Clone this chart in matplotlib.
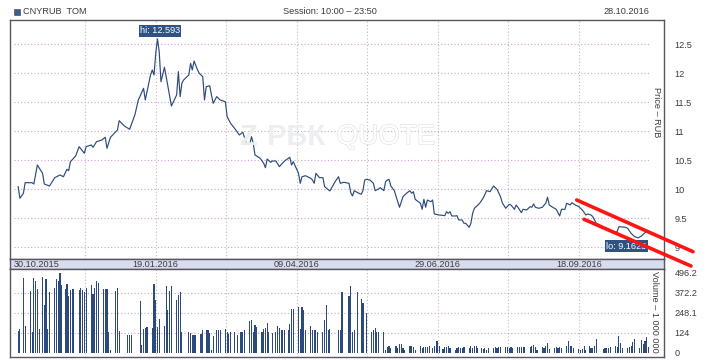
import matplotlib
matplotlib.use("Agg")
import matplotlib.pyplot as plt
from matplotlib.lines import Line2D
from matplotlib.patches import Rectangle
import matplotlib.patheffects as pe

plt.rcParams['font.family'] = ['Liberation Sans', 'DejaVu Sans']

# ---------------- data ----------------
title_left = "CNYRUB  TOM"
title_mid = "Session: 10:00 \u2013 23:50"
title_right = "28.10.2016"

# days since 30.10.2015
price_days = [2, 3, 5, 6, 10, 11, 13, 16, 17, 20, 23, 26, 28, 30, 31, 32, 35, 37, 40, 41, 44, 45, 47, 50, 52, 53, 55, 59, 60, 63,
              66, 69, 71, 74, 75, 78, 79, 80, 81, 82, 83, 84, 86, 87, 90, 93, 94, 95, 96, 97, 100, 101, 102, 103, 105, 106, 108, 109, 110, 112,
              113, 114, 116, 118, 121, 122, 124, 127, 129, 131, 133, 135, 136, 137, 138, 141, 143, 144, 145, 147, 148, 150, 152, 155, 158, 159, 160, 163, 164, 165,
              167, 170, 171, 172, 173, 175, 177, 178, 181, 184, 186, 187, 189, 192, 193, 194, 195, 197, 199, 200, 201, 202, 204, 206, 207, 209, 210, 212, 213, 214,
              215, 216, 218, 221, 223, 225, 227, 228, 229, 230, 233, 234, 235, 236, 237, 239, 240, 241, 244, 247, 248, 249, 250, 251, 253, 254, 255, 257, 258, 259,
              261, 262, 263, 264, 267, 269, 271, 273, 275, 277, 279, 280, 282, 284, 285, 287, 288, 289, 291, 292, 294, 296, 297, 298, 299, 301, 303, 305, 306, 307,
              309, 311, 313, 314, 316, 317, 319, 320, 322, 324, 326, 328, 329, 331, 332, 334, 336, 339, 341, 344, 346, 347, 351, 352, 354, 356, 358, 360, 362, 363]
prices = [10.045, 9.845, 9.931, 10.114, 10.114, 10.091, 10.419, 10.276, 10.091, 10.057, 10.200, 10.247, 10.217, 10.345, 10.321, 10.476, 10.574, 10.735, 10.621, 10.735,
          10.764, 10.724, 10.821, 10.850, 10.897, 10.707, 10.897, 11.022, 11.183, 11.091,
          11.035, 11.281, 11.540, 11.741, 11.540, 11.971, 12.057, 11.971, 12.345, 12.593, 12.372, 11.855, 12.103, 11.941, 11.436, 11.626, 12.028, 11.597, 11.827, 11.884,
          11.971, 12.172, 12.057, 12.212, 12.057, 12.000, 11.941, 11.540, 11.769, 11.786,
          11.626, 11.483, 11.597, 11.540, 11.510, 11.252, 11.138, 11.022, 10.936, 10.983, 10.793, 10.776, 10.907, 10.793, 10.591, 10.535, 10.448, 10.372, 10.522, 10.465,
          10.488, 10.488, 10.390, 10.488, 10.552, 10.419, 10.476, 10.276, 10.103, 10.217,
          10.234, 10.190, 10.160, 10.103, 10.276, 10.200, 10.200, 10.045, 9.971, 10.131, 10.217, 10.103, 10.121, 10.103, 9.941, 9.885, 9.976, 9.941, 9.914, 9.976,
          10.160, 10.172, 10.160, 10.103, 9.976, 10.005, 10.028, 9.976, 10.131, 10.160,
          10.172, 10.057, 9.976, 9.690, 9.873, 9.931, 9.976, 9.931, 9.959, 9.827, 9.759, 9.655, 9.827, 9.690, 9.814, 9.786, 9.815, 9.574, 9.557, 9.545,
          9.614, 9.586, 9.614, 9.540, 9.540, 9.545, 9.471, 9.471, 9.414, 9.414,
          9.345, 9.414, 9.586, 9.672, 9.758, 9.845, 9.976, 9.959, 10.057, 10.000, 9.873, 9.769, 9.672, 9.741, 9.729, 9.655, 9.729, 9.690, 9.597, 9.655,
          9.643, 9.700, 9.690, 9.747, 9.690, 9.672, 9.690, 9.759, 9.862, 9.729,
          9.690, 9.655, 9.540, 9.655, 9.655, 9.759, 9.729, 9.769, 9.729, 9.700, 9.643, 9.557, 9.574, 9.557, 9.528, 9.414, 9.385, 9.327, 9.298, 9.252,
          9.269, 9.355, 9.345, 9.327, 9.241, 9.183, 9.1625, 9.195, 9.252, 9.269]

volume_days = [2, 3, 5, 6, 9, 10, 11, 12, 13, 14, 16, 17, 18, 19, 20, 23, 24, 25, 26, 27, 29, 30, 31, 32, 33, 34, 37, 38, 39, 40,
               41, 44, 45, 46, 47, 48, 51, 52, 53, 54, 55, 58, 59, 60, 65, 66, 67, 72, 73, 74, 75, 76, 79, 80, 81, 82, 83, 86, 87, 88,
               89, 90, 93, 94, 95, 96, 100, 101, 102, 103, 104, 107, 108, 110, 111, 112, 113, 114, 116, 117, 118, 121, 122, 123, 124, 126, 128, 130, 131, 132,
               135, 136, 137, 138, 139, 142, 143, 144, 145, 146, 148, 150, 151, 152, 153, 154, 155, 157, 158, 159, 160, 163, 164, 165, 166, 167, 170, 171, 172, 173,
               174, 177, 178, 179, 180, 181, 186, 187, 188, 192, 193, 194, 195, 197, 199, 200, 202, 205, 206, 207, 208, 209, 212, 213, 214, 215, 216, 219, 220, 221,
               222, 223, 224, 227, 228, 229, 230, 233, 234, 235, 236, 237, 238, 240, 241, 242, 243, 244, 246, 247, 248, 249, 250, 253, 254, 255, 256, 257, 258, 261,
               262, 263, 264, 265, 266, 268, 269, 270, 271, 272, 275, 276, 277, 278, 279, 282, 283, 284, 285, 286, 289, 290, 291, 292, 293, 296, 297, 298, 299, 300,
               303, 304, 305, 306, 307, 310, 311, 312, 313, 314, 317, 318, 319, 320, 321, 324, 325, 326, 327, 328, 330, 331, 332, 333, 334, 338, 339, 340, 341, 342,
               345, 346, 347, 348, 349, 352, 353, 354, 355, 356, 359, 360, 361, 362, 363, 364]
volumes = [135, 146, 465, 167, 386, 131, 465, 448, 396, 146, 471, 298, 459, 146, 375, 402, 459, 444, 496.2, 423, 396, 430, 354, 392, 396, 396, 388, 402, 392, 375,
           402, 423, 365, 402, 448, 434, 396, 396, 396, 131, 17, 382, 402, 135, 110, 110, 110, 319, 48, 146, 152, 158, 152, 430, 329, 158, 211, 163, 413, 267,
           382, 413, 329, 361, 375, 125, 125, 121, 110, 110, 110, 117, 138, 142, 138, 121, 13, 104, 142, 138, 142, 146, 131, 117, 125, 131, 110, 131, 131, 138,
           194, 200, 131, 173, 158, 125, 146, 152, 183, 125, 121, 131, 167, 152, 142, 138, 138, 138, 179, 271, 271, 284, 146, 284, 263, 142, 167, 138, 138, 138,
           125, 125, 204, 298, 138, 146, 138, 138, 375, 350, 417, 125, 142, 375, 334, 309, 246, 131, 142, 152, 131, 131, 125, 17, 33, 38, 27, 42, 27, 54,
           54, 27, 17, 42, 42, 33, 17, 38, 27, 33, 33, 33, 38, 27, 42, 69, 69, 38, 21, 33, 33, 42, 27, 17, 27, 33, 27, 27, 33, 27,
           38, 27, 38, 42, 27, 27, 21, 27, 17, 27, 27, 33, 27, 33, 33, 33, 33, 27, 33, 27, 33, 33, 33, 33, 33, 33, 42, 48, 33, 17,
           33, 27, 42, 58, 21, 27, 33, 27, 33, 27, 42, 69, 42, 42, 27, 21, 17, 21, 42, 17, 42, 27, 27, 42, 83, 21, 27, 27, 27, 33,
           38, 33, 104, 58, 27, 27, 33, 42, 63, 83, 27, 75, 54, 69, 96, 33]

date_tick_days = [0, 81, 162, 243, 324]
date_tick_labels = ["30.10.2015", "19.01.2016", "09.04.2016", "29.06.2016", "18.09.2016"]
price_ticks = [9, 9.5, 10, 10.5, 11, 11.5, 12, 12.5]
price_tick_labels = ["9", "9.5", "10", "10.5", "11", "11.5", "12", "12.5"]
volume_ticks = [0, 124, 248.1, 372.2, 496.2]
volume_tick_labels = ["0", "124", "248.1", "372.2", "496.2"]

# ---------------- style ----------------
W, H = 718, 360
FRAME = '#5b5262'
LINE = '#2c4b7c'
TXT = '#3c3c3c'
HGRID = '#c9a3cc'
VGRID = '#b9bfb9'
FS = 6.6

def fx(x):
    return x / W

def fy(y):
    return 1 - y / H

fig = plt.figure(figsize=(W / 100, H / 100), dpi=100)
fig.patch.set_facecolor('white')

xlo, xhi = -2.7, 372.9
ax_p = fig.add_axes([fx(10), fy(259), 654 / W, 239 / H])
ax_d = fig.add_axes([fx(10), fy(269), 654 / W, 10 / H])
ax_v = fig.add_axes([fx(10), fy(357), 654 / W, 88 / H])

for ax in (ax_p, ax_d, ax_v):
    ax.set_xlim(xlo, xhi)
    for s in ax.spines.values():
        s.set_color(FRAME)
        s.set_linewidth(1.0)
    ax.set_xticks([])

ax_p.set_ylim(8.798, 12.919)
ax_v.set_ylim(-28, 521)

# grid lines
vgrid_days = [40.5 * k for k in range(1, 9)]
for ax in (ax_p, ax_v):
    for d in vgrid_days:
        ax.axvline(d, color=VGRID, lw=0.8, ls=(0, (1, 2)), zorder=0)
for t in price_ticks:
    ax_p.hlines(t, -0.4, 364.3, color=HGRID, lw=0.8, ls=(0, (1, 2)), zorder=0)
for t in volume_ticks[1:4]:
    ax_v.hlines(t, -0.4, 364.3, color=HGRID, lw=0.8, ls=(0, (1, 2)), zorder=0)

# watermark
fig.text(fx(296), fy(137), "\u0420\u0411\u041a", fontsize=21, fontweight='bold', color='#eceef2',
         ha='center', va='center', zorder=0)
fig.text(fx(248), fy(137), "Z", fontsize=21, fontweight='bold', color='#e9f0e9',
         ha='center', va='center', zorder=0)
fig.text(fx(386), fy(137), "QUOTE", fontsize=20, color='white', ha='center', va='center', zorder=0,
         path_effects=[pe.withStroke(linewidth=0.9, foreground='#e2e2e8')])

# price line
ax_p.plot(price_days, prices, color=LINE, lw=0.85, zorder=3)

# hi / lo labels
pmax = max(prices)
dmax = price_days[prices.index(pmax)]
pmin = min(prices)
dmin = price_days[prices.index(pmin)]
box = dict(boxstyle='square,pad=0.15', fc='#2f5283', ec='none')
ax_p.annotate(f"hi: {pmax:g}", xy=(dmax, pmax), xytext=(2.5, 8), textcoords='offset pixels',
              ha='center', va='center', fontsize=FS, color='white', bbox=box, zorder=5)
ax_p.annotate(f"lo: {pmin:g}", xy=(dmin, pmin), xytext=(-12, -8.5), textcoords='offset pixels',
              ha='center', va='center', fontsize=FS, color='white', bbox=box, zorder=5)

# price axis
ax_p.yaxis.tick_right()
ax_p.set_yticks(price_ticks)
ax_p.set_yticklabels(price_tick_labels)
ax_p.tick_params(axis='y', length=0, pad=7.5, labelsize=FS, labelcolor=TXT)
fig.text(fx(657), fy(112), "Price \u2013 RUB", rotation=-90, fontsize=FS, color=TXT,
         ha='center', va='center')

# date strip
ax_d.set_facecolor('#d8ddee')
ax_d.set_ylim(0, 1)
ax_d.set_yticks([])
for d, lab in zip(date_tick_days, date_tick_labels):
    if d == date_tick_days[0]:
        ax_d.text(xlo + (14 - 10) / 1.741, 0.45, lab, ha='left', va='center', fontsize=FS, color=TXT)
    else:
        ax_d.text(d, 0.45, lab, ha='center', va='center', fontsize=FS, color=TXT)

# volume
ax_v.bar(volume_days, volumes, width=0.65, color=LINE, zorder=3)
ax_v.yaxis.tick_right()
ax_v.set_yticks(volume_ticks)
ax_v.set_yticklabels(volume_tick_labels)
ax_v.tick_params(axis='y', length=0, pad=7.5, labelsize=FS, labelcolor=TXT)
fig.text(fx(655), fy(312), "Volume \u2013 1 000 000", rotation=-90, fontsize=FS, color=TXT,
         ha='center', va='center')

# header
fig.add_artist(Rectangle((fx(14), fy(15)), 6 / W, 6 / H, transform=fig.transFigure,
                         fc='#3a5d92', ec='#555555', lw=0.5))
fig.text(fx(23), fy(12), title_left, fontsize=FS, color=TXT, ha='left', va='center')
fig.text(fx(283), fy(12), title_mid, fontsize=FS, color=TXT, ha='left', va='center')
fig.text(fx(649), fy(12), title_right, fontsize=FS, color=TXT, ha='right', va='center')

# hand-drawn red channel
for (x0, y0, x1, y1) in [(576.7, 200, 693, 251.7), (584, 219.3, 691, 266)]:
    fig.add_artist(Line2D([fx(x0), fx(x1)], [fy(y0), fy(y1)], transform=fig.transFigure,
                          color='#ff1414', lw=2.6, solid_capstyle='round', zorder=10))

fig.savefig("out.png", dpi=100)
